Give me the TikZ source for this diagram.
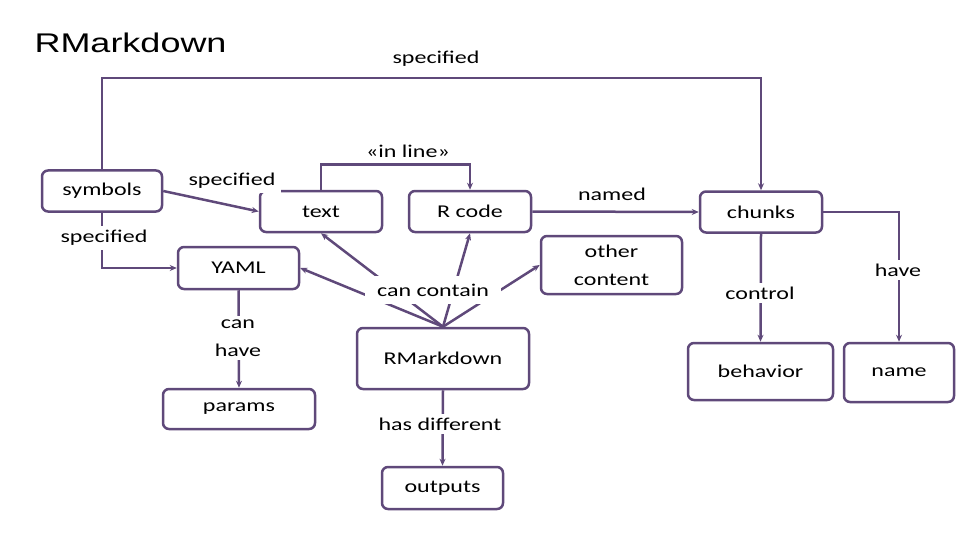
\documentclass[tikz,border=0pt]{standalone}
\usepackage{fontspec}
\setmainfont{Carlito}[FakeStretch=1.333]
\newfontfamily\titlefont{Liberation Sans}[FakeStretch=1.333]
\usepackage{xcolor}
\usepackage{tikz}
\usetikzlibrary{arrows.meta,positioning,calc}
\definecolor{rmdpurple}{HTML}{5F497A}

\begin{document}
\begin{tikzpicture}[
  x=1pt, y=-1pt,
  font=\fontsize{18}{28}\selectfont,
  box/.style={draw=rmdpurple, line width=2.5pt, rounded corners=6pt, align=center, inner sep=0pt, minimum width=122pt, minimum height=41pt},
  lbl/.style={fill=white, align=center, inner xsep=6pt, inner ysep=4pt},
  arr/.style={-{Stealth[length=7pt,width=6pt]}, line width=2.5pt, draw=rmdpurple},
  lin/.style={line width=2.5pt, draw=rmdpurple}
]
\useasboundingbox (0,0) rectangle (960,540);
\node[anchor=base west, font=\titlefont\fontsize{27}{32}\selectfont] (title) at (31,53) {RMarkdown};
% boxes
\node[box, minimum width=120pt] (sym) at (102,191) {symbols};
\node[box] (txt) at (321,211.5) {text};
\node[box] (rcode) at (470,211.5) {R code};
\node[box] (chunks) at (761,212) {chunks};
\node[box, minimum width=121pt, minimum height=42pt] (yaml) at (238.5,268) {YAML};
\node[box, minimum width=141pt, minimum height=58pt] (other) at (611.5,265) {other\\content};
\node[box, minimum width=172pt, minimum height=61pt] (rmd) at (443,358.5) {RMarkdown};
\node[box, minimum width=152pt, minimum height=40pt] (params) at (239,409) {params};
\node[box, minimum width=121pt, minimum height=42pt] (outputs) at (442.5,488) {outputs};
\node[box, minimum width=145pt, minimum height=57pt] (behav) at (760.5,371.5) {behavior};
\node[box, minimum width=110pt, minimum height=59pt] (name) at (899,372.5) {name};
% connectors
\draw[arr] (sym.north) -- (sym.north |- 0,78) -| (chunks.north);
\draw[arr] (sym.east) -- (txt.west);
\draw[arr] (sym.south) |- (yaml.west);
\draw[arr] (txt.north) -- ++(0,-25) -| (rcode.north);
\draw[arr] (rcode.east) -- (chunks.west);
\draw[arr] (rmd.north) -- (txt.south);
\draw[arr] (rmd.north) -- (yaml.east);
\draw[arr] (rmd.north) -- (rcode.south);
\draw[arr] (rmd.north) -- (other.west);
\draw[arr] (yaml.south) -- (params.north);
\draw[arr] (rmd.south) -- (outputs.north);
\draw[arr] (chunks.south) -- (behav.north);
\draw[arr] (chunks.east) -| (name.north);
% labels
\node[anchor=south] (lspec1) at (436,70) {specified};
\node[lbl] (lspec2) at (232,181) {specified};
\node[lbl] (lspec3) at (104,238) {specified};
\node[anchor=south] (linline) at (408,161) {«in line»};
\node[anchor=south] (lnamed) at (612,204) {named};
\node[lbl, inner xsep=12pt, inner ysep=8pt] (lcontain) at (433,290) {can contain};
\node[lbl] (lcontrol) at (760,293) {control};
\node[lbl] (lhave) at (898,270) {have};
\node[lbl] (lcanhave) at (238,338) {can\\have};
\node[lbl] (ldiff) at (440,424) {has different};
\end{tikzpicture}
\end{document}
